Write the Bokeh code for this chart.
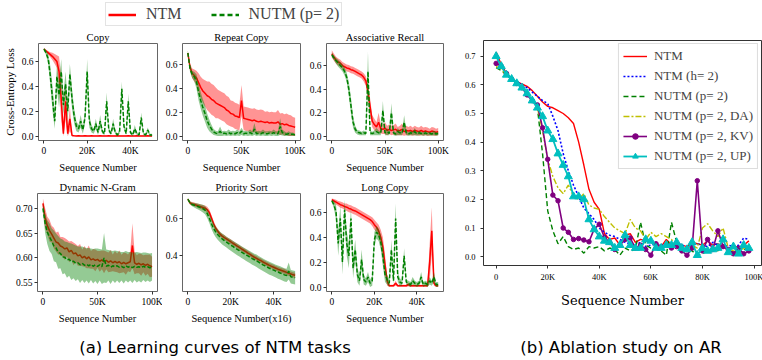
from bokeh.plotting import figure
from bokeh.models import Range1d, FixedTicker, Legend, LegendItem, Div
from bokeh.layouts import row, column
from bokeh.embed import file_html
from bokeh.resources import INLINE

# ------------------------------------------------------------------ data
X_50K = list(range(0, 50001, 1000))
X_100K = list(range(0, 100001, 2000))
X_AB = list(range(0, 98001, 2000))

# Copy (0..50K)
copy_ntm = [0.70,0.685,0.67,0.655,0.64,0.62,0.60,0.52,0.30,0.02,
            0.28,0.02,0.14,0.005,0.003,0.002,0.003,0.002,0.002,0.003,
            0.002,0.002,0.003,0.002,0.002,0.002,0.003,0.002,0.002,0.002,
            0.003,0.002,0.002,0.002,0.003,0.002,0.002,0.002,0.002,0.003,
            0.002,0.002,0.002,0.003,0.002,0.002,0.002,0.002,0.003,0.002,
            0.002]
copy_ntm_sd = [0.01,0.01,0.015,0.02,0.03,0.04,0.05,0.12,0.18,0.04,
               0.15,0.03,0.10,0.01,0.005,0.004,0.004,0.004,0.004,0.004,
               0.004,0.004,0.004,0.004,0.004,0.004,0.004,0.004,0.004,0.004,
               0.004,0.004,0.004,0.004,0.004,0.004,0.004,0.004,0.004,0.004,
               0.004,0.004,0.004,0.004,0.004,0.004,0.004,0.004,0.004,0.004,
               0.004]
copy_nutm = [0.70,0.67,0.62,0.48,0.30,0.12,0.48,0.33,0.52,0.25,
             0.42,0.20,0.50,0.30,0.16,0.08,0.06,0.12,0.05,0.15,
             0.52,0.12,0.06,0.04,0.10,0.03,0.12,0.04,0.02,0.28,
             0.05,0.02,0.10,0.03,0.01,0.04,0.38,0.08,0.02,0.28,
             0.03,0.01,0.06,0.02,0.01,0.15,0.02,0.01,0.05,0.01,
             0.01]
copy_nutm_sd = [0.01,0.02,0.04,0.08,0.10,0.06,0.10,0.10,0.10,0.08,
                0.10,0.08,0.08,0.08,0.06,0.04,0.03,0.05,0.03,0.05,
                0.10,0.05,0.03,0.02,0.04,0.02,0.05,0.02,0.01,0.07,
                0.02,0.01,0.04,0.015,0.01,0.02,0.06,0.03,0.01,0.06,
                0.015,0.01,0.03,0.01,0.01,0.04,0.01,0.01,0.02,0.01,
                0.01]

# Repeat Copy (0..100K)
rc_ntm = [0.70,0.58,0.53,0.51,0.49,0.45,0.41,0.38,0.36,0.34,
          0.33,0.31,0.30,0.28,0.27,0.26,0.25,0.24,0.22,0.21,
          0.19,0.185,0.17,0.165,0.155,0.30,0.15,0.145,0.14,0.135,
          0.13,0.135,0.125,0.12,0.125,0.12,0.115,0.12,0.11,0.115,
          0.11,0.11,0.12,0.10,0.105,0.095,0.10,0.09,0.085,0.08,
          0.075]
rc_ntm_sd = [0.02,0.03,0.04,0.05,0.06,0.08,0.09,0.10,0.11,0.12,
             0.13,0.13,0.13,0.13,0.12,0.12,0.12,0.12,0.12,0.12,
             0.11,0.11,0.11,0.11,0.11,0.13,0.10,0.10,0.10,0.10,
             0.10,0.10,0.10,0.10,0.10,0.10,0.09,0.09,0.09,0.09,
             0.09,0.09,0.10,0.09,0.09,0.09,0.09,0.09,0.09,0.08,
             0.08]
rc_nutm = [0.70,0.57,0.52,0.50,0.46,0.37,0.30,0.24,0.19,0.13,
           0.09,0.06,0.035,0.025,0.02,0.04,0.02,0.025,0.02,0.03,
           0.02,0.025,0.02,0.03,0.02,0.04,0.02,0.025,0.02,0.03,
           0.02,0.06,0.02,0.025,0.02,0.03,0.02,0.02,0.025,0.02,
           0.03,0.02,0.02,0.08,0.03,0.02,0.015,0.02,0.015,0.015,
           0.01]
rc_nutm_sd = [0.02,0.03,0.03,0.04,0.06,0.07,0.07,0.07,0.07,0.06,
              0.05,0.035,0.025,0.02,0.02,0.04,0.02,0.02,0.02,0.025,
              0.02,0.02,0.02,0.025,0.02,0.03,0.02,0.02,0.02,0.025,
              0.02,0.05,0.02,0.02,0.02,0.025,0.02,0.02,0.02,0.02,
              0.025,0.02,0.02,0.07,0.025,0.02,0.015,0.02,0.015,0.015,
              0.01]

# Associative Recall (0..100K)
ar_ntm = [0.70,0.67,0.645,0.63,0.62,0.60,0.59,0.58,0.575,0.565,
          0.56,0.55,0.54,0.53,0.52,0.50,0.47,0.38,0.25,0.13,
          0.10,0.08,0.12,0.065,0.06,0.07,0.05,0.06,0.05,0.055,
          0.06,0.045,0.05,0.06,0.04,0.05,0.045,0.05,0.04,0.05,
          0.045,0.04,0.05,0.04,0.045,0.04,0.035,0.045,0.04,0.035,
          0.04]
ar_ntm_sd = [0.03,0.03,0.03,0.03,0.03,0.03,0.03,0.03,0.03,0.03,
             0.03,0.03,0.03,0.03,0.03,0.035,0.04,0.06,0.07,0.05,
             0.05,0.04,0.08,0.04,0.04,0.05,0.04,0.04,0.04,0.04,
             0.05,0.035,0.04,0.05,0.035,0.04,0.035,0.04,0.035,0.04,
             0.035,0.035,0.04,0.035,0.035,0.035,0.03,0.035,0.035,0.03,
             0.03]
ar_nutm = [0.69,0.665,0.64,0.62,0.60,0.58,0.55,0.50,0.40,0.26,
           0.12,0.06,0.035,0.03,0.025,0.03,0.025,0.55,0.03,0.025,
           0.03,0.04,0.03,0.025,0.22,0.03,0.04,0.025,0.20,0.03,
           0.02,0.04,0.03,0.025,0.12,0.03,0.02,0.03,0.025,0.04,
           0.02,0.03,0.025,0.02,0.03,0.02,0.025,0.02,0.03,0.02,
           0.025]
ar_nutm_sd = [0.02,0.02,0.025,0.03,0.03,0.03,0.035,0.04,0.06,0.07,
              0.05,0.03,0.02,0.02,0.015,0.02,0.015,0.17,0.02,0.015,
              0.02,0.03,0.02,0.015,0.08,0.02,0.03,0.015,0.08,0.02,
              0.015,0.03,0.02,0.015,0.06,0.02,0.015,0.02,0.015,0.03,
              0.015,0.02,0.015,0.015,0.02,0.015,0.015,0.015,0.02,0.015,
              0.015]

# Dynamic N-Gram (0..100K)
dng_ntm = [0.71,0.68,0.665,0.655,0.648,0.64,0.632,0.63,0.624,0.622,
           0.618,0.62,0.612,0.615,0.608,0.61,0.604,0.606,0.60,0.603,
           0.598,0.602,0.596,0.598,0.595,0.597,0.593,0.596,0.592,0.595,
           0.591,0.594,0.59,0.593,0.59,0.592,0.588,0.591,0.588,0.59,
           0.592,0.625,0.59,0.587,0.589,0.586,0.588,0.585,0.587,0.584,
           0.582]
dng_ntm_sd = [0.01,0.02,0.018,0.022,0.017,0.021,0.019,0.023,0.018,0.02,
              0.022,0.017,0.021,0.019,0.023,0.018,0.02,0.022,0.017,0.021,
              0.019,0.023,0.018,0.02,0.022,0.017,0.021,0.019,0.023,0.018,
              0.02,0.022,0.017,0.021,0.019,0.023,0.018,0.02,0.022,0.017,
              0.021,0.045,0.023,0.018,0.02,0.022,0.017,0.021,0.019,0.023,
              0.02]
dng_nutm = [0.70,0.67,0.652,0.642,0.634,0.624,0.62,0.611,0.609,0.602,
            0.601,0.596,0.597,0.592,0.593,0.589,0.59,0.586,0.589,0.585,
            0.587,0.584,0.587,0.583,0.586,0.583,0.586,0.582,0.60,0.583,
            0.585,0.581,0.584,0.582,0.584,0.581,0.583,0.58,0.584,0.581,
            0.583,0.58,0.583,0.581,0.582,0.58,0.583,0.581,0.582,0.58,
            0.582]
dng_nutm_sd = [0.01,0.02,0.024,0.028,0.026,0.031,0.029,0.033,0.03,0.035,
               0.032,0.036,0.033,0.037,0.034,0.036,0.033,0.037,0.034,0.036,
               0.033,0.036,0.032,0.035,0.033,0.036,0.032,0.035,0.05,0.034,
               0.031,0.034,0.03,0.033,0.03,0.032,0.029,0.032,0.03,0.031,
               0.029,0.031,0.028,0.031,0.029,0.03,0.028,0.03,0.028,0.029,
               0.028]

# Priority Sort (0..50K, x16)
ps_ntm = [0.70,0.68,0.675,0.672,0.668,0.664,0.66,0.656,0.652,0.645,
          0.63,0.60,0.57,0.545,0.53,0.515,0.505,0.497,0.49,0.482,
          0.475,0.467,0.46,0.452,0.445,0.437,0.43,0.423,0.415,0.408,
          0.40,0.393,0.387,0.38,0.375,0.368,0.362,0.356,0.35,0.345,
          0.34,0.335,0.33,0.326,0.322,0.318,0.313,0.308,0.305,0.30,
          0.298]
ps_ntm_sd = [0.005,0.008,0.01,0.01,0.01,0.012,0.012,0.013,0.014,0.015,
             0.016,0.016,0.015,0.014,0.013,0.012,0.012,0.013,0.012,0.012,
             0.013,0.012,0.012,0.013,0.012,0.013,0.012,0.012,0.013,0.012,
             0.013,0.012,0.013,0.012,0.013,0.012,0.013,0.012,0.013,0.012,
             0.013,0.012,0.013,0.012,0.013,0.014,0.013,0.014,0.013,0.014,
             0.013]
ps_nutm = [0.70,0.68,0.672,0.668,0.664,0.66,0.655,0.65,0.642,0.625,
           0.60,0.57,0.545,0.527,0.512,0.50,0.49,0.481,0.473,0.465,
           0.457,0.45,0.442,0.435,0.428,0.42,0.413,0.406,0.40,0.393,
           0.386,0.38,0.374,0.367,0.36,0.353,0.347,0.341,0.335,0.33,
           0.325,0.32,0.315,0.31,0.305,0.30,0.297,0.32,0.29,0.287,
           0.285]
ps_nutm_sd = [0.005,0.008,0.01,0.012,0.014,0.016,0.018,0.02,0.022,0.024,
              0.026,0.027,0.028,0.028,0.028,0.028,0.029,0.029,0.029,0.03,
              0.03,0.03,0.03,0.031,0.031,0.031,0.031,0.032,0.032,0.032,
              0.032,0.032,0.033,0.033,0.033,0.033,0.033,0.034,0.034,0.034,
              0.034,0.034,0.035,0.035,0.035,0.035,0.035,0.045,0.036,0.036,
              0.036]

# Long Copy (0..50K)
lc_ntm = [0.70,0.69,0.68,0.67,0.66,0.655,0.645,0.64,0.63,0.625,
          0.615,0.61,0.60,0.59,0.58,0.57,0.56,0.55,0.54,0.525,
          0.50,0.48,0.45,0.40,0.32,0.18,0.05,0.01,0.01,0.01,
          0.03,0.01,0.01,0.01,0.01,0.01,0.02,0.01,0.01,0.01,
          0.01,0.01,0.01,0.01,0.01,0.01,0.20,0.45,0.03,0.01,
          0.01]
lc_ntm_sd = [0.01,0.015,0.02,0.02,0.025,0.025,0.025,0.03,0.03,0.03,
             0.03,0.03,0.03,0.03,0.03,0.03,0.03,0.03,0.03,0.035,
             0.04,0.04,0.05,0.06,0.08,0.08,0.04,0.008,0.008,0.008,
             0.02,0.008,0.008,0.008,0.008,0.008,0.015,0.008,0.008,0.008,
             0.008,0.008,0.008,0.008,0.008,0.008,0.15,0.19,0.02,0.008,
             0.008]
lc_nutm = [0.69,0.66,0.60,0.35,0.55,0.20,0.62,0.35,0.25,0.55,
           0.15,0.30,0.10,0.05,0.22,0.06,0.04,0.08,0.03,0.05,
           0.38,0.44,0.42,0.36,0.25,0.10,0.06,0.03,0.30,0.05,
           0.55,0.08,0.04,0.03,0.25,0.04,0.03,0.02,0.05,0.03,
           0.02,0.03,0.08,0.02,0.03,0.02,0.05,0.03,0.08,0.02,
           0.02]
lc_nutm_sd = [0.01,0.03,0.06,0.10,0.10,0.10,0.08,0.10,0.10,0.08,
              0.08,0.08,0.06,0.04,0.08,0.04,0.03,0.04,0.03,0.04,
              0.06,0.05,0.05,0.06,0.08,0.06,0.04,0.03,0.08,0.03,
              0.12,0.04,0.03,0.02,0.06,0.02,0.02,0.02,0.03,0.02,
              0.02,0.02,0.04,0.02,0.02,0.02,0.03,0.02,0.04,0.02,
              0.02]

# Ablation study on AR (0..98K)
ab_ntm = [0.715,0.67,0.64,0.62,0.61,0.603,0.595,0.58,0.56,0.54,
          0.525,0.52,0.51,0.50,0.485,0.465,0.40,0.32,0.235,0.19,
          0.165,0.08,0.06,0.065,0.04,0.075,0.08,0.05,0.06,0.055,
          0.05,0.04,0.035,0.06,0.04,0.045,0.04,0.035,0.05,0.045,
          0.04,0.055,0.04,0.045,0.035,0.025,0.04,0.03,0.04,0.055]
ab_ntm_h2 = [0.70,0.665,0.635,0.62,0.61,0.60,0.59,0.575,0.56,0.545,
             0.535,0.49,0.44,0.36,0.30,0.25,0.21,0.17,0.15,0.13,
             0.10,0.085,0.075,0.07,0.06,0.05,0.045,0.04,0.05,0.035,
             0.04,0.045,0.04,0.035,0.04,0.05,0.04,0.035,0.04,0.045,
             0.04,0.035,0.05,0.04,0.03,0.04,0.035,0.04,0.065,0.06]
ab_nutm = [0.66,0.65,0.635,0.62,0.605,0.59,0.57,0.55,0.52,0.36,
           0.16,0.09,0.045,0.07,0.035,0.025,0.03,0.012,0.035,0.03,
           0.035,0.02,0.03,0.025,0.005,0.03,0.02,0.025,0.12,0.04,
           0.03,0.03,0.02,0.005,0.12,0.05,0.015,0.025,0.02,0.005,
           0.01,0.02,0.03,0.02,0.04,0.025,0.015,0.02,0.025,0.03]
ab_nutm_da = [0.665,0.655,0.635,0.62,0.605,0.59,0.57,0.55,0.52,0.44,
              0.34,0.28,0.24,0.22,0.25,0.21,0.20,0.22,0.18,0.17,
              0.165,0.14,0.12,0.10,0.09,0.08,0.13,0.10,0.09,0.06,
              0.085,0.07,0.08,0.07,0.06,0.04,0.03,0.02,0.04,0.03,
              0.10,0.115,0.09,0.07,0.10,0.03,0.02,0.015,0.03,0.04]
ab_nutm_kv = [0.675,0.665,0.64,0.62,0.605,0.59,0.565,0.545,0.53,0.45,
              0.34,0.215,0.195,0.10,0.085,0.06,0.063,0.058,0.052,0.096,
              0.113,0.067,0.05,0.025,0.04,0.06,0.065,0.03,0.04,0.025,
              0.005,0.045,0.035,0.04,0.03,0.035,0.02,0.005,0.03,0.265,
              0.02,0.06,0.025,0.09,0.035,0.025,0.01,0.03,0.01,0.02]
ab_nutm_up = [0.70,0.665,0.635,0.62,0.605,0.59,0.57,0.545,0.52,0.49,
              0.44,0.41,0.36,0.32,0.28,0.21,0.21,0.20,0.13,0.095,
              0.07,0.055,0.05,0.03,0.04,0.075,0.04,0.03,0.03,0.06,
              0.055,0.03,0.03,0.04,0.04,0.05,0.03,0.025,0.05,0.005,
              0.03,0.02,0.025,0.03,0.06,0.015,0.035,0.01,0.04,0.03]

# ticks
T50 = [0, 20000, 40000]; T50_L = ["0", "20K", "40K"]
T100 = [0, 50000, 100000]; T100_L = ["0", "50K", "100K"]
TAB = [0, 20000, 40000, 60000, 80000, 100000]; TAB_L = ["0", "20K", "40K", "60K", "80K", "100K"]
Y_LOSS = [0.0, 0.2, 0.4, 0.6]; Y_LOSS_L = ["0.0", "0.2", "0.4", "0.6"]
Y_DNG = [0.55, 0.60, 0.65, 0.70]; Y_DNG_L = ["0.55", "0.60", "0.65", "0.70"]
Y_PS = [0.4, 0.6]; Y_PS_L = ["0.4", "0.6"]
Y_AB = [0.0, 0.1, 0.2, 0.3, 0.4, 0.5, 0.6, 0.7]; Y_AB_L = ["0.0", "0.1", "0.2", "0.3", "0.4", "0.5", "0.6", "0.7"]

for arr, xs in [(copy_ntm, X_50K), (copy_ntm_sd, X_50K), (copy_nutm, X_50K), (copy_nutm_sd, X_50K),
                (rc_ntm, X_100K), (rc_ntm_sd, X_100K), (rc_nutm, X_100K), (rc_nutm_sd, X_100K),
                (ar_ntm, X_100K), (ar_ntm_sd, X_100K), (ar_nutm, X_100K), (ar_nutm_sd, X_100K),
                (dng_ntm, X_100K), (dng_ntm_sd, X_100K), (dng_nutm, X_100K), (dng_nutm_sd, X_100K),
                (ps_ntm, X_50K), (ps_ntm_sd, X_50K), (ps_nutm, X_50K), (ps_nutm_sd, X_50K),
                (lc_ntm, X_50K), (lc_ntm_sd, X_50K), (lc_nutm, X_50K), (lc_nutm_sd, X_50K),
                (ab_ntm, X_AB), (ab_ntm_h2, X_AB), (ab_nutm, X_AB), (ab_nutm_da, X_AB),
                (ab_nutm_kv, X_AB), (ab_nutm_up, X_AB)]:
    assert len(arr) == len(xs), (len(arr), len(xs))

# ------------------------------------------------------------------ style
SERIF = "Liberation Serif"
RED = "#ff0000"
GREEN = "#008000"


def style_axis(ax, label_size, title_size, title_font=SERIF):
    ax.axis_line_color = None
    ax.major_tick_line_color = "#333333"
    ax.major_tick_out = 3
    ax.major_tick_in = 0
    ax.minor_tick_line_color = None
    ax.major_label_text_font = SERIF
    ax.major_label_text_font_size = label_size
    ax.major_label_text_color = "#000000"
    ax.major_label_standoff = 2
    ax.axis_label_text_font = title_font
    ax.axis_label_text_font_size = title_size
    ax.axis_label_text_font_style = "normal"
    ax.axis_label_text_color = "#000000"
    ax.axis_label_standoff = 3


def sub(title, xs, nm, ns, um, us, xr, yr, xt, xtl, yt, ytl, xlabel,
        w, h, bl, br, bt, bb, ylabel=None):
    p = figure(width=w, height=h, x_range=Range1d(*xr), y_range=Range1d(*yr),
               output_backend="svg", toolbar_location=None,
               min_border_left=bl, min_border_right=br,
               min_border_top=bt, min_border_bottom=bb)
    p.title.text = title
    p.title.align = "center"
    p.title.text_font = SERIF
    p.title.text_font_size = "10.5px"
    p.title.text_font_style = "normal"
    p.title.text_color = "#000000"
    p.title.standoff = 2
    p.grid.visible = False
    p.outline_line_color = "#666666"
    p.outline_line_width = 1
    lo_n = [max(m - s, 0.0) for m, s in zip(nm, ns)]
    hi_n = [m + s for m, s in zip(nm, ns)]
    lo_u = [max(m - s, 0.0) for m, s in zip(um, us)]
    hi_u = [m + s for m, s in zip(um, us)]
    p.varea(x=xs, y1=lo_n, y2=hi_n, fill_color=RED, fill_alpha=0.42)
    p.line(xs, nm, line_color=RED, line_width=1.5)
    p.varea(x=xs, y1=lo_u, y2=hi_u, fill_color=GREEN, fill_alpha=0.42)
    p.line(xs, um, line_color=GREEN, line_width=1.5, line_dash="4 2")
    style_axis(p.xaxis[0], "9.5px", "10.5px")
    style_axis(p.yaxis[0], "9.5px", "10.5px")
    p.xaxis.ticker = FixedTicker(ticks=xt)
    p.xaxis.major_label_overrides = dict(zip(xt, xtl))
    p.yaxis.ticker = FixedTicker(ticks=yt)
    p.yaxis.major_label_overrides = dict(zip(yt, ytl))
    p.xaxis.axis_label = xlabel
    if ylabel:
        p.yaxis.axis_label = ylabel
        p.yaxis.axis_label_text_font_size = "11px"
    return p


R50 = (-2500, 52500)
R100 = (-5000, 105000)

f_copy = sub("Copy", X_50K, copy_ntm, copy_ntm_sd, copy_nutm, copy_nutm_sd,
             R50, (-0.035, 0.745), T50, T50_L, Y_LOSS, Y_LOSS_L, "Sequence Number",
             162, 147, 37, 5, 15, 32, ylabel="Cross-Entropy Loss")
f_rc = sub("Repeat Copy", X_100K, rc_ntm, rc_ntm_sd, rc_nutm, rc_nutm_sd,
           R100, (-0.037, 0.78), T100, T100_L, Y_LOSS, Y_LOSS_L, "Sequence Number",
           144, 147, 18, 6, 15, 32)
f_ar = sub("Associative Recall", X_100K, ar_ntm, ar_ntm_sd, ar_nutm, ar_nutm_sd,
           R100, (-0.035, 0.787), T100, T100_L, Y_LOSS, Y_LOSS_L, "Sequence Number",
           144, 147, 18, 7, 15, 32)
f_dng = sub("Dynamic N-Gram", X_100K, dng_ntm, dng_ntm_sd, dng_nutm, dng_nutm_sd,
            R100, (0.532, 0.73), T100, T100_L, Y_DNG, Y_DNG_L, "Sequence Number",
            162, 151, 37, 5, 18, 31)
f_ps = sub("Priority Sort", X_50K, ps_ntm, ps_ntm_sd, ps_nutm, ps_nutm_sd,
           R50, (0.212, 0.73), T50, T50_L, Y_PS, Y_PS_L, "Sequence Number(x16)",
           144, 151, 18, 6, 18, 31)
f_lc = sub("Long Copy", X_50K, lc_ntm, lc_ntm_sd, lc_nutm, lc_nutm_sd,
           R50, (-0.036, 0.75), T50, T50_L, Y_LOSS, Y_LOSS_L, "Sequence Number",
           144, 151, 18, 7, 18, 31)

# top legend strip for panel (a): renderers reuse the Copy series, ranges keep them off-view
lg = figure(width=450, height=28, x_range=Range1d(-3, -2), y_range=Range1d(-3, -2),
            output_backend="svg", toolbar_location=None, min_border=0,
            x_axis_type=None, y_axis_type=None)
lg.grid.visible = False
lg.outline_line_color = None
r_a1 = lg.line(X_50K, copy_ntm, line_color=RED, line_width=2.5)
r_a2 = lg.line(X_50K, copy_nutm, line_color=GREEN, line_width=2.5, line_dash="5 3")
leg_a = Legend(items=[LegendItem(label="NTM", renderers=[r_a1]),
                      LegendItem(label="NUTM (p= 2)", renderers=[r_a2])],
               location=(105, 2), orientation="horizontal")
leg_a.label_text_font = SERIF
leg_a.label_text_font_size = "16px"
leg_a.label_standoff = 10
leg_a.glyph_width = 28
leg_a.glyph_height = 15
leg_a.label_height = 15
leg_a.spacing = 29
leg_a.padding = 2
leg_a.margin = 0
leg_a.border_line_color = "#c8c8c8"
leg_a.border_line_width = 1
lg.add_layout(leg_a)

# panel (b)
fb = figure(width=312, height=310, x_range=Range1d(-4900, 102900), y_range=Range1d(-0.031, 0.755),
            output_backend="svg", toolbar_location=None,
            min_border_left=23, min_border_right=11, min_border_top=40, min_border_bottom=43)
fb.grid.visible = False
fb.outline_line_color = "#333333"
r1 = fb.line(X_AB, ab_ntm, line_color="#ff0000", line_width=1.4)
r2 = fb.line(X_AB, ab_ntm_h2, line_color="#0000ff", line_width=1.6, line_dash="2 2")
r3 = fb.line(X_AB, ab_nutm, line_color="#008000", line_width=1.4, line_dash="5 3")
r4 = fb.line(X_AB, ab_nutm_da, line_color="#bfbf00", line_width=1.4, line_dash="6 2 2 2")
r5 = fb.line(X_AB, ab_nutm_kv, line_color="#800080", line_width=1.6)
r5m = fb.scatter(X_AB, ab_nutm_kv, marker="circle", size=4.5, fill_color="#800080", line_color="#800080")
r6 = fb.line(X_AB, ab_nutm_up, line_color="#00bfbf", line_width=1.8)
r6m = fb.scatter(X_AB, ab_nutm_up, marker="triangle", size=8, fill_color="#00bfbf", line_color="#00bfbf")
leg_b = Legend(items=[LegendItem(label="NTM", renderers=[r1]),
                      LegendItem(label="NTM (h= 2)", renderers=[r2]),
                      LegendItem(label="NUTM (p= 2)", renderers=[r3]),
                      LegendItem(label="NUTM (p= 2, DA)", renderers=[r4]),
                      LegendItem(label="NUTM (p= 2, KV)", renderers=[r5, r5m]),
                      LegendItem(label="NUTM (p= 2, UP)", renderers=[r6, r6m])],
               location="top_right")
leg_b.label_text_font = SERIF
leg_b.label_text_font_size = "13px"
leg_b.glyph_width = 24
leg_b.glyph_height = 14
leg_b.label_height = 14
leg_b.label_standoff = 7
leg_b.spacing = 4
leg_b.padding = 4
leg_b.margin = 3
leg_b.border_line_color = "#bbbbbb"
leg_b.border_line_width = 1
fb.add_layout(leg_b)
style_axis(fb.xaxis[0], "8.5px", "13px", title_font="DejaVu Serif")
style_axis(fb.yaxis[0], "8.5px", "13px", title_font="DejaVu Serif")
fb.xaxis.ticker = FixedTicker(ticks=TAB)
fb.xaxis.major_label_overrides = dict(zip(TAB, TAB_L))
fb.yaxis.ticker = FixedTicker(ticks=Y_AB)
fb.yaxis.major_label_overrides = dict(zip(Y_AB, Y_AB_L))
fb.xaxis.axis_label = "Sequence Number"
fb.xaxis.axis_label_standoff = 8
fb.xaxis.major_label_standoff = 3
fb.yaxis.major_label_standoff = 5

cap_style = "font-family:'DejaVu Sans';font-size:16.5px;line-height:19px;color:#000;white-space:nowrap;"
cap_a = Div(text=f'<div style="{cap_style}text-align:center;width:420px;padding-top:7px;">(a) Learning curves of NTM tasks</div>',
            width=450, height=34)
cap_b = Div(text=f'<div style="{cap_style}text-align:center;width:299px;padding-left:13px;padding-top:23px;">(b) Ablation study on AR</div>',
            width=312, height=50)

col_a = column(lg, row(f_copy, f_rc, f_ar), row(f_dng, f_ps, f_lc), cap_a)
col_b = column(fb, cap_b)
root = row(col_a, col_b)

open("out.html", "w").write(file_html(root, INLINE))
